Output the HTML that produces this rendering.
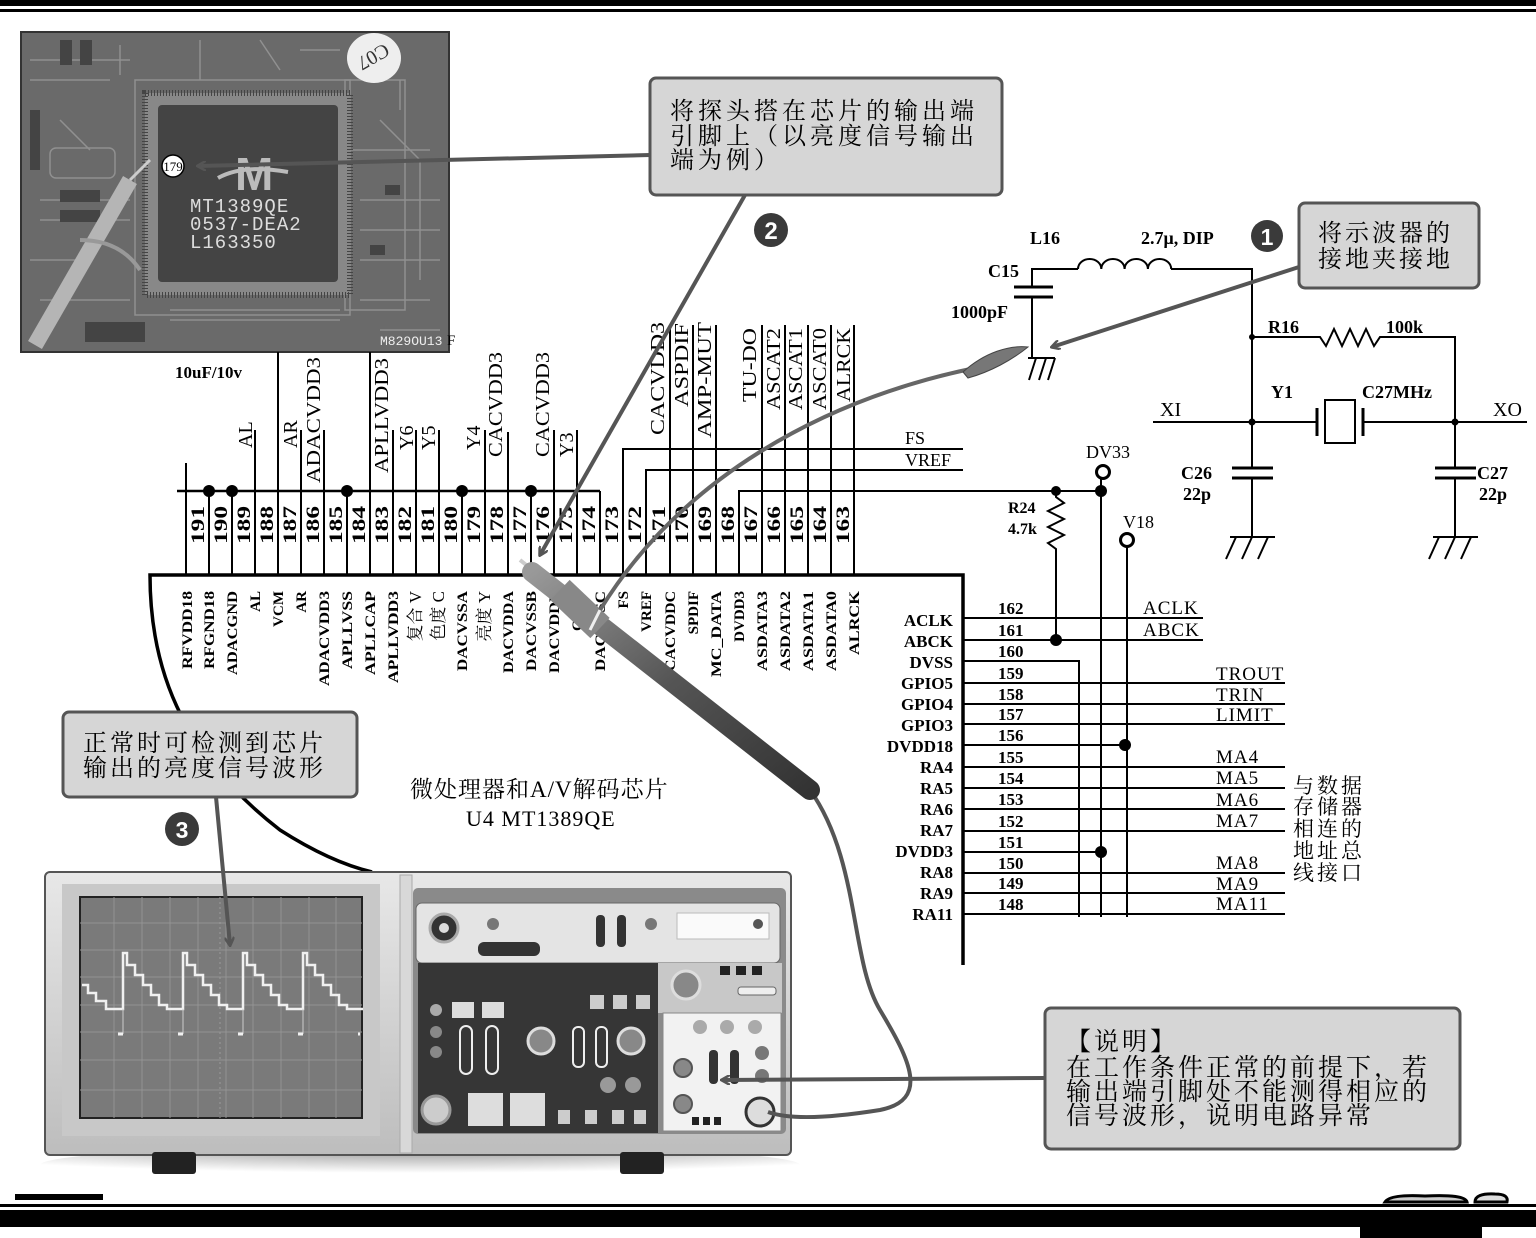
<!DOCTYPE html>
<html><head><meta charset="utf-8"><style>
html,body{margin:0;padding:0;background:#fff;}
svg{display:block;}
.s{font-family:"Liberation Serif","Noto Serif CJK SC",serif;}
.c{font-family:"Liberation Sans","Noto Sans CJK SC",sans-serif;}
</style></head><body>
<svg width="1536" height="1238" viewBox="0 0 1536 1238" xmlns="http://www.w3.org/2000/svg">
<defs>
<linearGradient id="body" x1="0" y1="0" x2="0" y2="1"><stop offset="0" stop-color="#e8e8e8"/><stop offset="1" stop-color="#bdbdbd"/></linearGradient>
<linearGradient id="probe" x1="0" y1="0" x2="1" y2="1"><stop offset="0" stop-color="#999"/><stop offset="0.5" stop-color="#555"/><stop offset="1" stop-color="#333"/></linearGradient>
<radialGradient id="shadow" cx="0.5" cy="0" r="0.7"><stop offset="0" stop-color="#888"/><stop offset="1" stop-color="#fff"/></radialGradient>
<marker id="ah" markerWidth="10" markerHeight="10" refX="8" refY="5" orient="auto" markerUnits="userSpaceOnUse"><path d="M0,0 L9,5 L0,10" fill="none" stroke="#555" stroke-width="2.5"/></marker>
</defs>
<rect x="0" y="0" width="1536" height="6" fill="#000"/>
<rect x="0" y="9" width="1536" height="3" fill="#000"/>
<rect x="15" y="1194" width="88" height="6" fill="#000"/>
<rect x="0" y="1204" width="1536" height="3" fill="#000"/>
<rect x="0" y="1210" width="1536" height="17" fill="#000"/>
<rect x="1360" y="1227" width="122" height="11" fill="#000"/>
<path d="M1385,1202 q5,-8 40,-6 q40,-2 42,6 z" fill="#ccc" stroke="#000" stroke-width="3"/>
<path d="M1475,1202 q0,-9 20,-8 q14,0 12,8 z" fill="#ddd" stroke="#000" stroke-width="3"/>

<rect x="21" y="32" width="428" height="320" fill="#6a6a6a" stroke="#333" stroke-width="2"/>
<g stroke="#9a9a9a" stroke-width="1.5" fill="none" opacity="0.8">
<path d="M30,60 h100 M30,80 h80 M40,300 h90 M380,120 l40,40 v120 M360,300 h70 M400,80 v30 M60,120 l30,30 M350,150 h80 M120,45 v30 M200,40 v40 M260,40 l20,30 M300,50 h40 M380,330 h60 M30,260 h50 M40,200 h90 M40,220 h90 M360,200 h80 M360,230 h80 M360,260 h80 M170,310 h170 M170,320 h170"/>
<rect x="50" y="148" width="65" height="30" rx="6"/>
<rect x="345" y="80" width="60" height="230"/>
<rect x="135" y="80" width="215" height="235"/>
</g>
<g fill="#444"><rect x="60" y="40" width="12" height="25"/><rect x="80" y="40" width="12" height="25"/><rect x="85" y="322" width="60" height="20"/><rect x="385" y="185" width="15" height="10"/><rect x="370" y="245" width="15" height="10"/><rect x="60" y="190" width="40" height="12"/><rect x="60" y="210" width="40" height="12"/><rect x="30" y="110" width="10" height="60"/></g>
<rect x="145" y="93" width="205" height="202" fill="#888"/>
<rect x="145" y="93" width="205" height="202" fill="none" stroke="#444" stroke-width="6" stroke-dasharray="1 2"/>
<rect x="158" y="105" width="180" height="177" rx="4" fill="#444"/>
<text x="235" y="190" class="c" font-size="46" font-weight="bold" fill="#bbb">M</text>
<path d="M218,178 q25,-14 70,-6" stroke="#bbb" stroke-width="4" fill="none"/>
<text x="190" y="212" font-family="Liberation Mono,monospace" font-size="19" fill="#ddd" letter-spacing="1">MT1389QE</text>
<text x="190" y="230" font-family="Liberation Mono,monospace" font-size="19" fill="#ddd" letter-spacing="1">0537-DEA2</text>
<text x="190" y="248" font-family="Liberation Mono,monospace" font-size="19" fill="#ddd" letter-spacing="1">L163350</text>
<ellipse cx="374" cy="58" rx="27" ry="25" fill="#eee"/>
<text x="374" y="66" class="s" font-size="20" fill="#333" text-anchor="middle" transform="rotate(150 374 58)">C07</text>
<text x="380" y="345" font-family="Liberation Mono,monospace" font-size="13" fill="#eee">M829OU13</text>
<text x="447" y="345" class="s" font-size="15" fill="#000">F</text>
<line x1="130" y1="180" x2="35" y2="345" stroke="#b5b5b5" stroke-width="16"/>
<line x1="130" y1="180" x2="150" y2="160" stroke="#ccc" stroke-width="3"/>
<path d="M80,240 q40,0 60,30" stroke="#999" stroke-width="4" fill="none"/>
<circle cx="173" cy="166" r="11" fill="#fff" stroke="#000" stroke-width="1.5"/>
<text x="173" y="171" class="s" font-size="13" text-anchor="middle">179</text>
<path d="M650,155 L198,166" stroke="#555" stroke-width="4" fill="none" marker-end="url(#ah)"/>

<rect x="650" y="78" width="352" height="117" rx="6" fill="#d6d6d6" stroke="#555" stroke-width="3"/>
<g class="s" font-size="24" letter-spacing="4">
<text x="670" y="119">将探头搭在芯片的输出端</text>
<text x="670" y="144">引脚上（以亮度信号输出</text>
<text x="670" y="168">端为例）</text>
</g>
<circle cx="771" cy="230" r="17" fill="#3a3a3a"/>
<text x="771" y="239" class="c" font-size="24" font-weight="bold" fill="#fff" text-anchor="middle">2</text>

<g stroke="#000" stroke-width="2" fill="none">
<line x1="177" y1="491" x2="600" y2="491" stroke-width="2.5"/>
<line x1="186" y1="575" x2="186" y2="463"/>
<line x1="209" y1="575" x2="209" y2="491"/>
<line x1="232" y1="575" x2="232" y2="491"/>
<line x1="255" y1="575" x2="255" y2="430"/>
<line x1="278" y1="575" x2="278" y2="352"/>
<line x1="301" y1="575" x2="301" y2="430"/>
<line x1="324" y1="575" x2="324" y2="430"/>
<line x1="347" y1="575" x2="347" y2="491"/>
<line x1="370" y1="575" x2="370" y2="352"/>
<line x1="393" y1="575" x2="393" y2="430"/>
<line x1="416" y1="575" x2="416" y2="430"/>
<line x1="439" y1="575" x2="439" y2="430"/>
<line x1="462" y1="575" x2="462" y2="491"/>
<line x1="485" y1="575" x2="485" y2="430"/>
<line x1="508" y1="575" x2="508" y2="432"/>
<line x1="531" y1="575" x2="531" y2="491"/>
<line x1="554" y1="575" x2="554" y2="430"/>
<line x1="577" y1="575" x2="577" y2="430"/>
<line x1="600" y1="575" x2="600" y2="491"/>
<polyline points="623,575 623,449 963,449"/>
<polyline points="646,575 646,470 963,470"/>
<line x1="670" y1="575" x2="670" y2="325"/>
<line x1="693" y1="575" x2="693" y2="325"/>
<line x1="716" y1="575" x2="716" y2="325"/>
<polyline points="739,575 739,491 1101,491"/>
<line x1="762" y1="575" x2="762" y2="325"/>
<line x1="785" y1="575" x2="785" y2="325"/>
<line x1="808" y1="575" x2="808" y2="325"/>
<line x1="831" y1="575" x2="831" y2="325"/>
<line x1="854" y1="575" x2="854" y2="325"/>
</g>
<g fill="#000"><circle cx="209" cy="491" r="6"/><circle cx="232" cy="491" r="6"/><circle cx="347" cy="491" r="6"/><circle cx="462" cy="491" r="6"/><circle cx="531" cy="491" r="6"/></g>
<g class="s" font-size="19" font-weight="bold" text-anchor="middle">
<text transform="translate(204,525) rotate(-90)" textLength="38" lengthAdjust="spacingAndGlyphs">191</text>
<text transform="translate(227,525) rotate(-90)" textLength="38" lengthAdjust="spacingAndGlyphs">190</text>
<text transform="translate(250,525) rotate(-90)" textLength="38" lengthAdjust="spacingAndGlyphs">189</text>
<text transform="translate(273,525) rotate(-90)" textLength="38" lengthAdjust="spacingAndGlyphs">188</text>
<text transform="translate(296,525) rotate(-90)" textLength="38" lengthAdjust="spacingAndGlyphs">187</text>
<text transform="translate(319,525) rotate(-90)" textLength="38" lengthAdjust="spacingAndGlyphs">186</text>
<text transform="translate(342,525) rotate(-90)" textLength="38" lengthAdjust="spacingAndGlyphs">185</text>
<text transform="translate(365,525) rotate(-90)" textLength="38" lengthAdjust="spacingAndGlyphs">184</text>
<text transform="translate(388,525) rotate(-90)" textLength="38" lengthAdjust="spacingAndGlyphs">183</text>
<text transform="translate(411,525) rotate(-90)" textLength="38" lengthAdjust="spacingAndGlyphs">182</text>
<text transform="translate(434,525) rotate(-90)" textLength="38" lengthAdjust="spacingAndGlyphs">181</text>
<text transform="translate(457,525) rotate(-90)" textLength="38" lengthAdjust="spacingAndGlyphs">180</text>
<text transform="translate(480,525) rotate(-90)" textLength="38" lengthAdjust="spacingAndGlyphs">179</text>
<text transform="translate(503,525) rotate(-90)" textLength="38" lengthAdjust="spacingAndGlyphs">178</text>
<text transform="translate(526,525) rotate(-90)" textLength="38" lengthAdjust="spacingAndGlyphs">177</text>
<text transform="translate(549,525) rotate(-90)" textLength="38" lengthAdjust="spacingAndGlyphs">176</text>
<text transform="translate(572,525) rotate(-90)" textLength="38" lengthAdjust="spacingAndGlyphs">175</text>
<text transform="translate(595,525) rotate(-90)" textLength="38" lengthAdjust="spacingAndGlyphs">174</text>
<text transform="translate(618,525) rotate(-90)" textLength="38" lengthAdjust="spacingAndGlyphs">173</text>
<text transform="translate(641,525) rotate(-90)" textLength="38" lengthAdjust="spacingAndGlyphs">172</text>
<text transform="translate(665,525) rotate(-90)" textLength="38" lengthAdjust="spacingAndGlyphs">171</text>
<text transform="translate(688,525) rotate(-90)" textLength="38" lengthAdjust="spacingAndGlyphs">170</text>
<text transform="translate(711,525) rotate(-90)" textLength="38" lengthAdjust="spacingAndGlyphs">169</text>
<text transform="translate(734,525) rotate(-90)" textLength="38" lengthAdjust="spacingAndGlyphs">168</text>
<text transform="translate(757,525) rotate(-90)" textLength="38" lengthAdjust="spacingAndGlyphs">167</text>
<text transform="translate(780,525) rotate(-90)" textLength="38" lengthAdjust="spacingAndGlyphs">166</text>
<text transform="translate(803,525) rotate(-90)" textLength="38" lengthAdjust="spacingAndGlyphs">165</text>
<text transform="translate(826,525) rotate(-90)" textLength="38" lengthAdjust="spacingAndGlyphs">164</text>
<text transform="translate(849,525) rotate(-90)" textLength="38" lengthAdjust="spacingAndGlyphs">163</text>
</g>
<g class="s" font-size="20" text-anchor="start">
<text transform="translate(252,448) rotate(-90)">AL</text>
<text transform="translate(297,448) rotate(-90)">AR</text>
<text transform="translate(320,483) rotate(-90)" textLength="126" lengthAdjust="spacingAndGlyphs">ADACVDD3</text>
<text transform="translate(388,473) rotate(-90)" textLength="115" lengthAdjust="spacingAndGlyphs">APLLVDD3</text>
<text transform="translate(413,450) rotate(-90)">Y6</text>
<text transform="translate(435,450) rotate(-90)">Y5</text>
<text transform="translate(480,450) rotate(-90)">Y4</text>
<text transform="translate(502,457) rotate(-90)" textLength="105" lengthAdjust="spacingAndGlyphs">CACVDD3</text>
<text transform="translate(549,457) rotate(-90)" textLength="105" lengthAdjust="spacingAndGlyphs">CACVDD3</text>
<text transform="translate(573,457) rotate(-90)">Y3</text>
<text transform="translate(664,435) rotate(-90)" textLength="113" lengthAdjust="spacingAndGlyphs">CACVDD3</text>
<text transform="translate(688,407) rotate(-90)" textLength="84" lengthAdjust="spacingAndGlyphs">ASPDIF</text>
<text transform="translate(711,438) rotate(-90)" textLength="116" lengthAdjust="spacingAndGlyphs">AMP-MUT</text>
<text transform="translate(756,402) rotate(-90)" textLength="74" lengthAdjust="spacingAndGlyphs">TU-DO</text>
<text transform="translate(780,410) rotate(-90)" textLength="82" lengthAdjust="spacingAndGlyphs">ASCAT2</text>
<text transform="translate(802,410) rotate(-90)" textLength="82" lengthAdjust="spacingAndGlyphs">ASCAT1</text>
<text transform="translate(826,410) rotate(-90)" textLength="82" lengthAdjust="spacingAndGlyphs">ASCAT0</text>
<text transform="translate(850,402) rotate(-90)" textLength="74" lengthAdjust="spacingAndGlyphs">ALRCK</text>
</g>
<text x="175" y="378" class="s" font-size="17" font-weight="bold">10uF/10v</text>
<text x="905" y="444" class="s" font-size="18">FS</text>
<text x="905" y="466" class="s" font-size="18">VREF</text>

<path d="M963,965 L963,575 L150,575 C150,680 190,760 280,830 Q330,862 372,872" fill="none" stroke="#000" stroke-width="3.5"/>
<g class="s" font-size="15" font-weight="bold" text-anchor="end">
<text transform="translate(192,591) rotate(-90)" textLength="78" lengthAdjust="spacingAndGlyphs">RFVDD18</text>
<text transform="translate(214,591) rotate(-90)" textLength="78" lengthAdjust="spacingAndGlyphs">RFGND18</text>
<text transform="translate(237,591) rotate(-90)" textLength="84" lengthAdjust="spacingAndGlyphs">ADACGND</text>
<text transform="translate(260,591) rotate(-90)">AL</text>
<text transform="translate(283,591) rotate(-90)">VCM</text>
<text transform="translate(306,591) rotate(-90)">AR</text>
<text transform="translate(329,591) rotate(-90)" textLength="95" lengthAdjust="spacingAndGlyphs">ADACVDD3</text>
<text transform="translate(352,591) rotate(-90)" textLength="78" lengthAdjust="spacingAndGlyphs">APLLVSS</text>
<text transform="translate(375,591) rotate(-90)" textLength="84" lengthAdjust="spacingAndGlyphs">APLLCAP</text>
<text transform="translate(398,591) rotate(-90)" textLength="92" lengthAdjust="spacingAndGlyphs">APLLVDD3</text>
<text transform="translate(421,591) rotate(-90)" font-weight="normal" font-size="17">复合 V</text>
<text transform="translate(444,591) rotate(-90)" font-weight="normal" font-size="17">色度 C</text>
<text transform="translate(467,591) rotate(-90)" textLength="80" lengthAdjust="spacingAndGlyphs">DACVSSA</text>
<text transform="translate(490,591) rotate(-90)" font-weight="normal" font-size="17">亮度 Y</text>
<text transform="translate(513,591) rotate(-90)" textLength="82" lengthAdjust="spacingAndGlyphs">DACVDDA</text>
<text transform="translate(536,591) rotate(-90)" textLength="80" lengthAdjust="spacingAndGlyphs">DACVSSB</text>
<text transform="translate(559,591) rotate(-90)" textLength="82" lengthAdjust="spacingAndGlyphs">DACVDDB</text>
<text transform="translate(582,591) rotate(-90)">CVBS</text>
<text transform="translate(605,591) rotate(-90)" textLength="80" lengthAdjust="spacingAndGlyphs">DACVSSC</text>
<text transform="translate(628,591) rotate(-90)">FS</text>
<text transform="translate(651,591) rotate(-90)">VREF</text>
<text transform="translate(675,591) rotate(-90)" textLength="80" lengthAdjust="spacingAndGlyphs">CACVDDC</text>
<text transform="translate(698,591) rotate(-90)">SPDIF</text>
<text transform="translate(721,591) rotate(-90)" textLength="86" lengthAdjust="spacingAndGlyphs">MC_DATA</text>
<text transform="translate(744,591) rotate(-90)">DVDD3</text>
<text transform="translate(767,591) rotate(-90)" textLength="80" lengthAdjust="spacingAndGlyphs">ASDATA3</text>
<text transform="translate(790,591) rotate(-90)" textLength="80" lengthAdjust="spacingAndGlyphs">ASDATA2</text>
<text transform="translate(813,591) rotate(-90)" textLength="80" lengthAdjust="spacingAndGlyphs">ASDATA1</text>
<text transform="translate(836,591) rotate(-90)" textLength="80" lengthAdjust="spacingAndGlyphs">ASDATA0</text>
<text transform="translate(859,591) rotate(-90)" textLength="64" lengthAdjust="spacingAndGlyphs">ALRCK</text>
</g>

<g stroke="#000" stroke-width="2" fill="none">
<line x1="963" y1="618" x2="1203" y2="618"/>
<line x1="963" y1="640" x2="1203" y2="640"/>
<polyline points="963,661 1079,661 1079,917"/>
<line x1="963" y1="683" x2="1285" y2="683"/>
<line x1="963" y1="704" x2="1285" y2="704"/>
<line x1="963" y1="724" x2="1285" y2="724"/>
<line x1="963" y1="745" x2="1125" y2="745"/>
<line x1="963" y1="767" x2="1285" y2="767"/>
<line x1="963" y1="788" x2="1285" y2="788"/>
<line x1="963" y1="809" x2="1285" y2="809"/>
<line x1="963" y1="831" x2="1285" y2="831"/>
<line x1="963" y1="852" x2="1101" y2="852"/>
<line x1="963" y1="873" x2="1285" y2="873"/>
<line x1="963" y1="893" x2="1285" y2="893"/>
<line x1="963" y1="914" x2="1285" y2="914"/>
<line x1="1101" y1="478" x2="1101" y2="917"/>
<line x1="1127" y1="547" x2="1127" y2="917"/>
<polyline points="1056,491 1056,497 1064,503 1048,511 1064,519 1048,527 1064,535 1048,543 1056,549 1056,640"/>
</g>
<g fill="#000"><circle cx="1056" cy="640" r="6"/><circle cx="1125" cy="745" r="6"/><circle cx="1101" cy="852" r="6"/><circle cx="1056" cy="491" r="5"/><circle cx="1101" cy="491" r="6"/></g>
<circle cx="1103" cy="472" r="6.5" fill="#fff" stroke="#000" stroke-width="3"/>
<circle cx="1127" cy="540" r="6.5" fill="#fff" stroke="#000" stroke-width="3"/>
<g class="s" font-size="17" font-weight="bold" text-anchor="end">
<text x="953" y="626">ACLK</text><text x="953" y="647">ABCK</text><text x="953" y="668">DVSS</text>
<text x="953" y="689">GPIO5</text><text x="953" y="710">GPIO4</text><text x="953" y="731">GPIO3</text>
<text x="953" y="752">DVDD18</text><text x="953" y="773">RA4</text><text x="953" y="794">RA5</text>
<text x="953" y="815">RA6</text><text x="953" y="836">RA7</text><text x="953" y="857">DVDD3</text>
<text x="953" y="878">RA8</text><text x="953" y="899">RA9</text><text x="953" y="920">RA11</text>
</g>
<g class="s" font-size="17" font-weight="bold">
<text x="998" y="614">162</text><text x="998" y="636">161</text><text x="998" y="657">160</text>
<text x="998" y="679">159</text><text x="998" y="700">158</text><text x="998" y="720">157</text>
<text x="998" y="741">156</text><text x="998" y="763">155</text><text x="998" y="784">154</text>
<text x="998" y="805">153</text><text x="998" y="827">152</text><text x="998" y="848">151</text>
<text x="998" y="869">150</text><text x="998" y="889">149</text><text x="998" y="910">148</text>
</g>
<g class="s" font-size="19" letter-spacing="1">
<text x="1143" y="614">ACLK</text><text x="1143" y="636">ABCK</text>
<text x="1216" y="680">TROUT</text><text x="1216" y="701">TRIN</text><text x="1216" y="721">LIMIT</text>
<text x="1216" y="763">MA4</text><text x="1216" y="784">MA5</text><text x="1216" y="806">MA6</text><text x="1216" y="827">MA7</text>
<text x="1216" y="869">MA8</text><text x="1216" y="890">MA9</text><text x="1216" y="910">MA11</text>
</g>
<g class="s" font-size="21" letter-spacing="3">
<text x="1293" y="793">与数据</text><text x="1293" y="814">存储器</text><text x="1293" y="836">相连的</text>
<text x="1293" y="858">地址总</text><text x="1293" y="880">线接口</text>
</g>
<text x="1086" y="458" class="s" font-size="18">DV33</text>
<text x="1123" y="528" class="s" font-size="18">V18</text>
<text x="1008" y="513" class="s" font-size="16" font-weight="bold">R24</text>
<text x="1008" y="534" class="s" font-size="16" font-weight="bold">4.7k</text>

<g stroke="#000" stroke-width="2" fill="none">
<polyline points="1032,287 1032,269 1078,269"/>
<path d="M1078,269 a11.6,10 0 0 1 23.3,0 a11.6,10 0 0 1 23.3,0 a11.6,10 0 0 1 23.3,0 a11.6,10 0 0 1 23.3,0"/>
<polyline points="1171,269 1252,269 1252,468"/>
<line x1="1252" y1="478" x2="1252" y2="537"/>
<line x1="1014" y1="287" x2="1053" y2="287" stroke-width="3"/>
<line x1="1014" y1="297" x2="1053" y2="297" stroke-width="3"/>
<line x1="1032" y1="297" x2="1032" y2="358"/>
<line x1="1028" y1="358" x2="1055" y2="358"/>
<path d="M1036,358 l-7,22 M1046,358 l-7,22 M1055,358 l-7,22"/>
<polyline points="1252,337 1320,337 1326,346 1334,329 1342,346 1350,329 1358,346 1366,329 1374,346 1380,337 1455,337 1455,468"/>
<line x1="1455" y1="478" x2="1455" y2="537"/>
<line x1="1153" y1="422" x2="1317" y2="422"/>
<line x1="1317" y1="408" x2="1317" y2="436" stroke-width="3"/>
<rect x="1325" y="400" width="30" height="43"/>
<line x1="1363" y1="408" x2="1363" y2="436" stroke-width="3"/>
<line x1="1363" y1="422" x2="1527" y2="422"/>
<line x1="1232" y1="468" x2="1273" y2="468" stroke-width="3"/>
<line x1="1232" y1="478" x2="1273" y2="478" stroke-width="3"/>
<line x1="1435" y1="468" x2="1476" y2="468" stroke-width="3"/>
<line x1="1435" y1="478" x2="1476" y2="478" stroke-width="3"/>
<line x1="1230" y1="537" x2="1275" y2="537"/>
<path d="M1236,537 l-10,22 M1252,537 l-10,22 M1268,537 l-10,22"/>
<line x1="1433" y1="537" x2="1478" y2="537"/>
<path d="M1439,537 l-10,22 M1455,537 l-10,22 M1471,537 l-10,22"/>
</g>
<g fill="#000"><circle cx="1252" cy="337" r="3"/><circle cx="1252" cy="422" r="3.5"/><circle cx="1455" cy="422" r="3.5"/></g>
<g class="s" font-size="18" font-weight="bold">
<text x="1030" y="244">L16</text><text x="1141" y="244">2.7μ, DIP</text>
<text x="988" y="277">C15</text><text x="951" y="318">1000pF</text>
<text x="1268" y="333">R16</text><text x="1386" y="333">100k</text>
<text x="1271" y="398">Y1</text><text x="1362" y="398">C27MHz</text>
<text x="1181" y="479">C26</text><text x="1183" y="500">22p</text>
<text x="1477" y="479">C27</text><text x="1479" y="500">22p</text>
</g>
<text x="1160" y="416" class="s" font-size="20">XI</text>
<text x="1493" y="416" class="s" font-size="20">XO</text>
<circle cx="1267" cy="236" r="16" fill="#3a3a3a"/>
<text x="1267" y="245" class="c" font-size="23" font-weight="bold" fill="#fff" text-anchor="middle">1</text>
<rect x="1299" y="203" width="180" height="85" rx="6" fill="#d6d6d6" stroke="#555" stroke-width="3"/>
<g class="s" font-size="24" letter-spacing="3"><text x="1318" y="241">将示波器的</text><text x="1318" y="267">接地夹接地</text></g>
<path d="M1299,267 L1052,347" stroke="#555" stroke-width="4" fill="none" marker-end="url(#ah)"/>

<ellipse cx="420" cy="1165" rx="380" ry="20" fill="url(#shadow)"/>
<rect x="45" y="872" width="746" height="283" rx="5" fill="url(#body)" stroke="#555" stroke-width="2"/>
<rect x="152" y="1152" width="44" height="22" rx="3" fill="#222"/>
<rect x="620" y="1152" width="44" height="22" rx="3" fill="#222"/>
<rect x="62" y="884" width="318" height="252" fill="#c8c8c8"/>
<rect x="80" y="897" width="282" height="221" fill="#7a7a7a" stroke="#222" stroke-width="2"/>
<g stroke="#939393" stroke-width="1">
<path d="M80,923 h282 M80,950 h282 M80,977 h282 M80,1005 h282 M80,1032 h282 M80,1060 h282 M80,1090 h282"/>
<path d="M114,897 v221 M142,897 v221 M170,897 v221 M198,897 v221 M226,897 v221 M253,897 v221 M281,897 v221 M309,897 v221 M336,897 v221"/>
</g>
<line x1="220" y1="897" x2="220" y2="1118" stroke="#999" stroke-dasharray="2 3"/>
<g stroke="#f0f0f0" stroke-width="2.5" fill="none">
<path d="M82,985 h6 v8 h8 v8 h10 v8 h17 v-56 h4 v12 h8 v10 h8 v10 h8 v10 h8 v10 h8 v4 h16 v-56 h4 v12 h8 v10 h8 v10 h8 v10 h8 v10 h8 v4 h16 v-56 h4 v12 h8 v10 h8 v10 h8 v10 h8 v10 h8 v4 h16 v-56 h4 v12 h8 v10 h8 v10 h8 v10 h8 v10 h8 v4 h16"/>
<path d="M123,1009 v25 M183,1009 v25 M243,1009 v25 M303,1009 v25" stroke-width="1" stroke="#ccc"/>
<path d="M95,1034 h265" stroke-dasharray="5 55" stroke-width="3" stroke-dashoffset="-23"/>
</g>
<rect x="400" y="875" width="12" height="278" fill="#d8d8d8" stroke="#aaa"/>
<rect x="413" y="888" width="373" height="246" rx="5" fill="#8a8a8a"/>
<rect x="416" y="903" width="364" height="60" rx="6" fill="#e4e4e4" stroke="#666"/>
<circle cx="444" cy="928" r="14" fill="#333" stroke="#aaa" stroke-width="3"/>
<circle cx="444" cy="928" r="5" fill="#ddd"/>
<circle cx="493" cy="924" r="6" fill="#777"/>
<rect x="478" y="942" width="62" height="14" rx="6" fill="#333"/>
<rect x="596" y="915" width="9" height="32" rx="4" fill="#333"/><rect x="617" y="915" width="9" height="32" rx="4" fill="#333"/>
<circle cx="651" cy="924" r="6" fill="#777"/>
<rect x="677" y="913" width="92" height="26" fill="#fafafa" stroke="#bbb"/>
<circle cx="758" cy="924" r="5" fill="#555"/>
<rect x="418" y="963" width="240" height="170" fill="#363636"/>
<rect x="658" y="963" width="124" height="50" fill="#c8c8c8"/>
<circle cx="686" cy="985" r="14" fill="#888" stroke="#ddd" stroke-width="3"/>
<g fill="#222"><rect x="720" y="966" width="10" height="9"/><rect x="736" y="966" width="10" height="9"/><rect x="752" y="966" width="10" height="9"/></g>
<rect x="738" y="987" width="38" height="8" rx="3" fill="#eee" stroke="#666"/>
<rect x="663" y="1013" width="118" height="118" fill="#f2f2f2" stroke="#888"/>
<g fill="#aaa"><circle cx="700" cy="1027" r="7"/><circle cx="727" cy="1027" r="7"/><circle cx="755" cy="1027" r="7"/></g>
<circle cx="683" cy="1068" r="9" fill="#888" stroke="#555" stroke-width="2"/>
<circle cx="683" cy="1104" r="9" fill="#888" stroke="#555" stroke-width="2"/>
<rect x="709" y="1050" width="9" height="34" rx="4" fill="#333"/><rect x="730" y="1050" width="9" height="34" rx="4" fill="#333"/>
<circle cx="762" cy="1053" r="7" fill="#777"/><circle cx="762" cy="1076" r="7" fill="#777"/>
<circle cx="760" cy="1112" r="14" fill="#ddd" stroke="#333" stroke-width="3"/>
<g fill="#222"><rect x="692" y="1117" width="7" height="8"/><rect x="703" y="1117" width="7" height="8"/><rect x="714" y="1117" width="7" height="8"/></g>
<g fill="#ddd"><rect x="452" y="1002" width="22" height="16"/><rect x="482" y="1002" width="22" height="16"/><rect x="468" y="1093" width="35" height="33"/><rect x="510" y="1093" width="35" height="33"/></g>
<circle cx="436" cy="1010" r="6" fill="#aaa"/><circle cx="436" cy="1032" r="6" fill="#888"/><circle cx="436" cy="1052" r="6" fill="#888"/>
<g fill="none" stroke="#eee" stroke-width="2"><rect x="460" y="1026" width="12" height="48" rx="6"/><rect x="486" y="1026" width="12" height="48" rx="6"/><rect x="573" y="1027" width="11" height="40" rx="5"/><rect x="596" y="1027" width="11" height="40" rx="5"/></g>
<circle cx="541" cy="1041" r="13" fill="#888" stroke="#ddd" stroke-width="3"/>
<circle cx="631" cy="1041" r="13" fill="#888" stroke="#ddd" stroke-width="3"/>
<circle cx="608" cy="1085" r="8" fill="#999"/><circle cx="633" cy="1085" r="8" fill="#999"/>
<circle cx="436" cy="1110" r="14" fill="#ccc" stroke="#999" stroke-width="3"/>
<g fill="#ccc"><rect x="558" y="1110" width="12" height="14"/><rect x="585" y="1110" width="12" height="14"/><rect x="612" y="1110" width="12" height="14"/><rect x="634" y="1110" width="12" height="14"/><rect x="590" y="995" width="14" height="14"/><rect x="613" y="995" width="14" height="14"/><rect x="636" y="995" width="14" height="14"/></g>

<path d="M810,790 C860,860 850,960 880,1010 C910,1060 930,1100 880,1110 C830,1118 790,1120 768,1112" stroke="#555" stroke-width="4" fill="none"/>
<path d="M520,560 L535,572" stroke="#ccc" stroke-width="4"/>
<path d="M532,572 L810,790" stroke="url(#probe)" stroke-width="20" stroke-linecap="round"/>
<path d="M560,590 L600,628" stroke="#888" stroke-width="28" stroke-linecap="butt"/>
<path d="M590,630 L600,610" stroke="#eee" stroke-width="3"/>
<path d="M600,610 C680,480 820,400 975,368" stroke="#666" stroke-width="4" fill="none"/>
<path d="M963,372 C985,352 1010,345 1028,347 C1012,360 990,372 968,378 z" fill="#777" stroke="#444"/>

<rect x="63" y="712" width="294" height="85" rx="6" fill="#d6d6d6" stroke="#555" stroke-width="3"/>
<g class="s" font-size="24" letter-spacing="3"><text x="83" y="751">正常时可检测到芯片</text><text x="83" y="776">输出的亮度信号波形</text></g>
<circle cx="182" cy="829" r="17" fill="#3a3a3a"/>
<text x="182" y="838" class="c" font-size="23" font-weight="bold" fill="#fff" text-anchor="middle">3</text>
<path d="M216,797 L230,945" stroke="#555" stroke-width="4" fill="none" marker-end="url(#ah)"/>
<path d="M745,195 L540,555" stroke="#555" stroke-width="4" fill="none" marker-end="url(#ah)"/>

<text x="410" y="797" class="s" font-size="23" letter-spacing="1">微处理器和A/V解码芯片</text>
<text x="466" y="826" class="s" font-size="22" letter-spacing="1">U4   MT1389QE</text>

<rect x="1045" y="1008" width="415" height="141" rx="6" fill="#d6d6d6" stroke="#555" stroke-width="3"/>
<g class="s" font-size="25" letter-spacing="3">
<text x="1066" y="1050">【说明】</text>
<text x="1066" y="1076">在工作条件正常的前提下，若</text>
<text x="1066" y="1100">输出端引脚处不能测得相应的</text>
<text x="1066" y="1124">信号波形，说明电路异常</text>
</g>
<path d="M1045,1078 L722,1080" stroke="#555" stroke-width="4" fill="none" marker-end="url(#ah)"/>
</svg>
</body></html>
